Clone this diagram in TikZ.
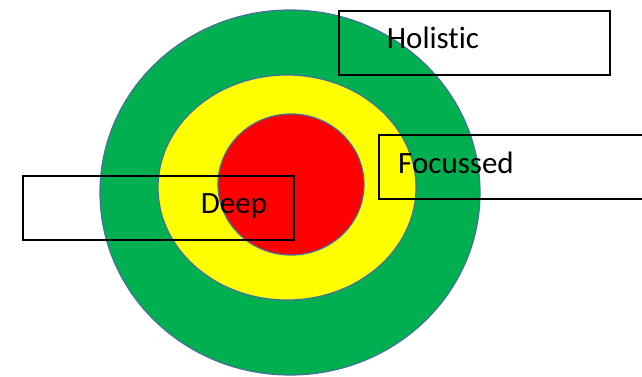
\documentclass[tikz,border=0pt]{standalone}
\usepackage{fontspec}
\setmainfont[Ligatures=NoCommon]{Carlito}
\definecolor{ringgreen}{HTML}{00B050}
\definecolor{ringyellow}{HTML}{FFFF00}
\definecolor{ringred}{HTML}{FF0000}
\definecolor{ringedge}{HTML}{41719C}

\begin{document}
\begin{tikzpicture}[x=1pt, y=-1pt, every node/.style={font=\fontsize{31}{36}\selectfont, inner sep=0pt},
	tagbox/.style={draw=black, line width=1.8pt, anchor=north west, minimum height=64pt}]
	\useasboundingbox (0,0) rectangle (642,376);
	\clip (0,0) rectangle (642,376);
	\foreach \c/\x/\y/\rx/\ry in {ringgreen/290/192.5/190/182.5, ringyellow/287/187.5/129/112.5, ringred/291/184.5/73/70.5} {
		\fill[\c, draw=ringedge, line width=1.2pt] (\x,\y) ellipse [x radius=\rx, y radius=\ry];
	}
	\node[tagbox, minimum width=271pt] (holbox) at (338,10) {};
	\node[tagbox, minimum width=280pt] (focbox) at (378,134) {};
	\node[tagbox, minimum width=271pt] (deepbox) at (22,175) {};
	\node[anchor=base] (hol) at (433,48) {Holistic};
	\node[anchor=base] (foc) at (456,173) {Focussed};
	\node[anchor=base] (deep) at (234,213) {Deep};
\end{tikzpicture}
\end{document}
